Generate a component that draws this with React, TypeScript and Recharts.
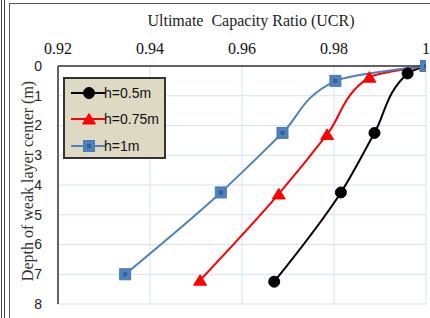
import React from 'react';
import { LineChart, Line, XAxis, YAxis, CartesianGrid } from 'recharts';

const depthH05 = [0, 0.25, 2.25, 4.25, 7.25];
const ucrH05 = [1.0, 0.996, 0.9888, 0.9815, 0.967];
const depthH075 = [0, 0.375, 2.3, 4.3, 7.2];
const ucrH075 = [1.0, 0.9877, 0.9785, 0.968, 0.9509];
const depthH1 = [0, 0.5, 2.25, 4.25, 7.0];
const ucrH1 = [1.0, 0.9803, 0.9688, 0.9554, 0.9346];
const xTicks = [0.92, 0.94, 0.96, 0.98, 1.0];
const yTicks = [0, 1, 2, 3, 4, 5, 6, 7, 8];
const seriesNames = ['h=0.5m', 'h=0.75m', 'h=1m'];
const xTitle = 'Ultimate  Capacity Ratio (UCR)';
const yTitle = 'Depth of weak layer center (m)';

const toRows = (d: number[], u: number[]) => d.map((depth, i) => ({ depth, ucr: u[i] }));
const rows05 = toRows(depthH05, ucrH05);
const rows075 = toRows(depthH075, ucrH075);
const rows1 = toRows(depthH1, ucrH1);

const BLUE = '#4f81bd';
const RED = '#ff0000';
const BLACK = '#000000';

const Circle = ({ cx, cy }: any) => <circle cx={cx} cy={cy} r={5.5} fill={BLACK} stroke={BLACK} />;
const Tri = ({ cx, cy }: any) => (
  <polygon points={`${cx},${cy - 5.5} ${cx + 6.5},${cy + 5} ${cx - 6.5},${cy + 5}`} fill={RED} stroke={RED} />
);
const Sq = ({ cx, cy }: any) => (
  <g>
    <rect x={cx - 5.5} y={cy - 5.5} width={11} height={11} fill={BLUE} stroke="#4a7ab5" />
    <rect x={cx - 2} y={cy - 2} width={4} height={4} fill="#2f5f96" />
  </g>
);

const renderDot = (Comp: any) => (props: any) => <Comp key={`d-${props.index}`} cx={props.cx} cy={props.cy} />;

const LegendRow = ({ color, Marker, label, top }: any) => (
  <div style={{ position: 'absolute', left: 0, top, height: 20, width: 103 }}>
    <svg width={40} height={20} style={{ position: 'absolute', left: 4, top: 0 }}>
      <line x1={2} y1={10} x2={36} y2={10} stroke={color} strokeWidth={2} />
      <Marker cx={20} cy={10} />
    </svg>
    <span style={{ position: 'absolute', left: 39, top: 2, fontFamily: 'Liberation Sans, Arial, sans-serif', fontSize: 14, color: '#111', whiteSpace: 'nowrap' }}>{label}</span>
  </div>
);

export default function App() {
  return (
    <div style={{ position: 'absolute', left: 0, top: 0, width: 430, height: 318, background: '#fff', overflow: 'hidden' }}>
      <div style={{ position: 'absolute', left: 1, top: 0, width: 1, height: 318, background: '#444' }} />
      <div style={{ position: 'absolute', left: 4, top: 0, width: 1, height: 318, background: '#444' }} />
      <div style={{ position: 'absolute', left: 9, top: 3, width: 1, height: 315, background: '#555' }} />
      <div style={{ position: 'absolute', left: 9, top: 3, width: 421, height: 1, background: '#555' }} />
      <div style={{ position: 'absolute', left: 0, top: 0 }}>
        <LineChart width={430} height={318} layout="vertical" margin={{ top: 0, right: 4, bottom: 14, left: 0 }}>
          <CartesianGrid stroke="#d6e2f3" strokeWidth={1} />
          <XAxis
            type="number"
            dataKey="ucr"
            orientation="top"
            domain={[0.92, 1.0]}
            ticks={xTicks}
            allowDataOverflow
            height={66}
            tickLine={false}
            tickMargin={6}
            axisLine={{ stroke: '#333', strokeWidth: 1.5 }}
            tick={{ fill: '#111', fontSize: 16, fontFamily: 'Liberation Serif, Times New Roman, serif' }}
            tickFormatter={(v: number) => (v === 1 ? '1' : v.toFixed(2))}
            interval={0}
          />
          <XAxis
            xAxisId="bottom"
            type="number"
            orientation="bottom"
            domain={[0.92, 1.0]}
            height={0}
            tick={false}
            tickLine={false}
            axisLine={{ stroke: '#333', strokeWidth: 1.5 }}
          />
          <YAxis
            type="number"
            dataKey="depth"
            domain={[0, 8]}
            ticks={yTicks}
            width={58}
            tickLine={false}
            tickMargin={10}
            interval={0}
            axisLine={{ stroke: '#333', strokeWidth: 1.5 }}
            tick={{ fill: '#222', fontSize: 14, fontFamily: 'Liberation Sans, Arial, sans-serif' }}
          />
          <YAxis
            yAxisId="right"
            type="number"
            orientation="right"
            domain={[0, 8]}
            width={0}
            tick={false}
            tickLine={false}
            axisLine={{ stroke: '#333', strokeWidth: 1.5 }}
          />
          <Line data={rows05} dataKey="ucr" name={seriesNames[0]} type="monotone" stroke={BLACK} strokeWidth={2} dot={renderDot(Circle)} isAnimationActive={false} />
          <Line data={rows075} dataKey="ucr" name={seriesNames[1]} type="monotone" stroke={RED} strokeWidth={2} dot={renderDot(Tri)} isAnimationActive={false} />
          <Line data={rows1} dataKey="ucr" name={seriesNames[2]} type="monotone" stroke={BLUE} strokeWidth={2} dot={renderDot(Sq)} isAnimationActive={false} />
        </LineChart>
      </div>
      <div style={{ position: 'absolute', left: 51, top: 12, width: 400, textAlign: 'center', fontFamily: 'Liberation Serif, Times New Roman, serif', fontSize: 16, color: '#222', whiteSpace: 'pre' }}>{xTitle}</div>
      <div style={{ position: 'absolute', left: 28, top: 181, transform: 'translate(-50%, -50%) rotate(-90deg)', fontFamily: 'Liberation Serif, Times New Roman, serif', fontSize: 16, color: '#333', whiteSpace: 'nowrap' }}>{yTitle}</div>
      <div style={{ position: 'absolute', left: 63, top: 77, width: 99, height: 78, background: '#ddd9c3', border: '2px solid #333' }}>
        <LegendRow color={BLACK} Marker={Circle} label={seriesNames[0]} top={4} />
        <LegendRow color={RED} Marker={Tri} label={seriesNames[1]} top={30} />
        <LegendRow color={BLUE} Marker={Sq} label={seriesNames[2]} top={57} />
      </div>
    </div>
  );
}
